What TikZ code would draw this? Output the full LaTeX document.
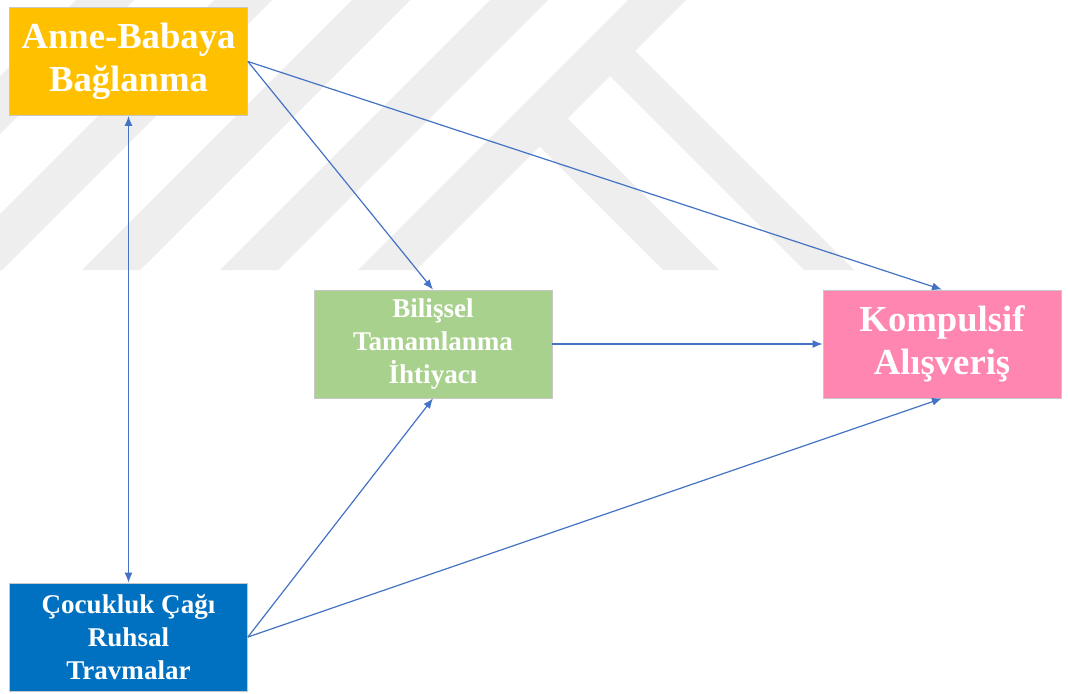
\documentclass[tikz,border=0pt]{standalone}
\usepackage{fontspec}
\setmainfont{Liberation Serif}
\usetikzlibrary{arrows.meta}
\definecolor{anneyellow}{HTML}{FFC000}
\definecolor{bilgreen}{HTML}{A9D18E}
\definecolor{kompink}{HTML}{FF86B0}
\definecolor{cocblue}{HTML}{0070C0}
\definecolor{linkblue}{HTML}{4472C4}
\definecolor{wmgray}{HTML}{EEEEEE}

\begin{document}
\begin{tikzpicture}[x=0.75pt,y=-0.75pt,
  >={Latex[length=7.5pt,width=6pt]},
  box/.style={draw=black!22, line width=0.6pt, minimum width=178.5pt,
    minimum height=81pt, inner sep=0pt, align=center, text=white},
  big/.style={font=\fontsize{27.5}{32.5}\selectfont\bfseries},
  small/.style={font=\fontsize{20.3}{24.5}\selectfont\bfseries},
  link/.style={draw=linkblue, line width=0.9pt, ->}]

  \fill[white] (0,0) rectangle (1068,693);
  \useasboundingbox (0,0) rectangle (1068,693);

  %%%%% watermark %%%%%
  \begin{scope}
    \clip (0,0) rectangle (1068,270);
    \foreach \a in {76,214,352,490,628}
      \fill[wmgray] (\a,0) -- (\a+58,0) -- (\a-212,270) -- (\a-270,270) -- cycle;
    \fill[wmgray] (622,38) -- (854,270) -- (804,270) -- (597,63) -- cycle;
    \fill[wmgray] (554.5,105.5) -- (719,270) -- (663,270) -- (526.5,133.5) -- cycle;
  \end{scope}

  %%%%% boxes %%%%%
  \node[box, fill=anneyellow, big] (anne) at (128.5,61.5) {Anne-Babaya\\Bağlanma};
  \node[box, fill=bilgreen, small] (bilissel) at (433,344) {Bilişsel\\Tamamlanma\\İhtiyacı};
  \node[box, fill=kompink, big] (kompulsif) at (942,344) {Kompulsif\\Alışveriş};
  \node[box, fill=cocblue, small] (cocuk) at (128.5,637) {Çocukluk Çağı\\Ruhsal\\Travmalar};

  %%%%% links %%%%%
  \draw[link, <->] (cocuk.north) -- (anne.south);
  \draw[link] (anne.east) -- (bilissel.north);
  \draw[link] (anne.east) -- (kompulsif.north);
  \draw[link] (bilissel.east) -- (kompulsif.west);
  \draw[link] (cocuk.east) -- (bilissel.south);
  \draw[link] (cocuk.east) -- (kompulsif.south);
\end{tikzpicture}
\end{document}
